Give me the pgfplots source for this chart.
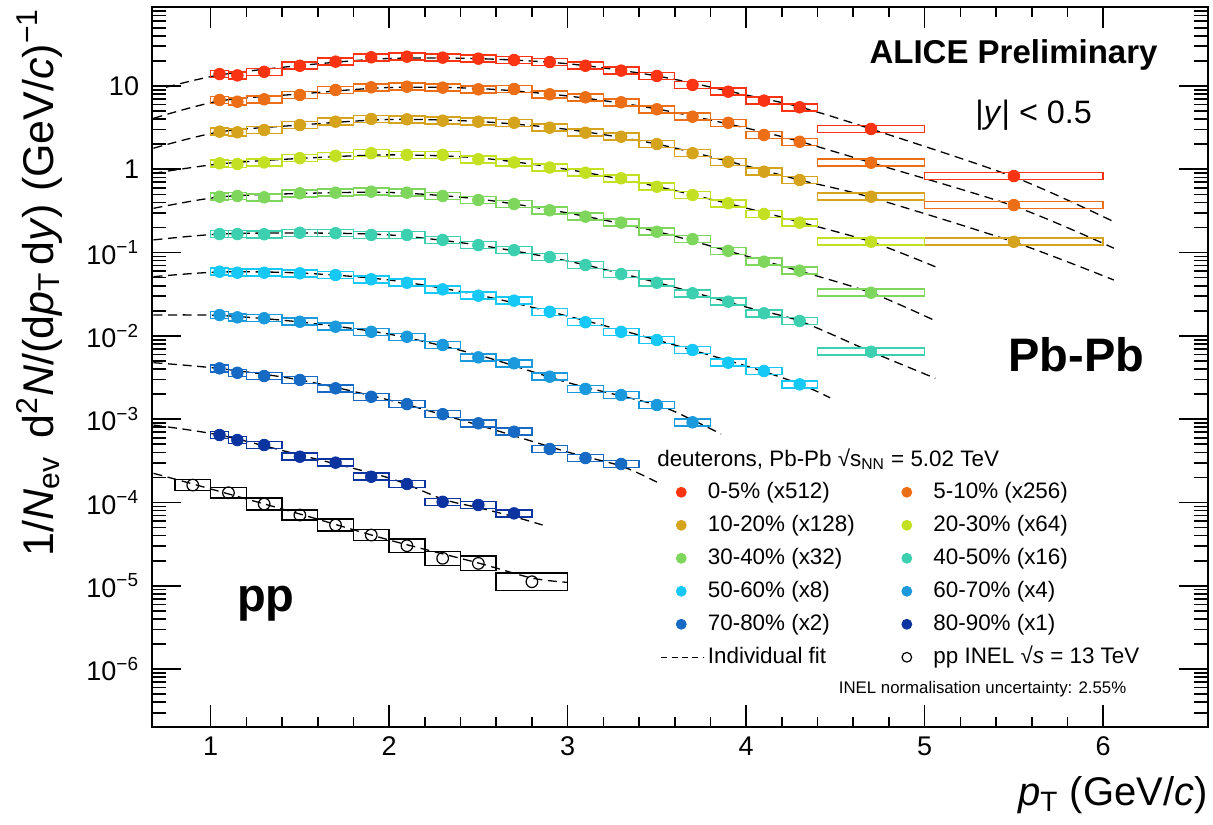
\documentclass[border=0pt]{standalone}
\usepackage{fontspec}
\setmainfont{Liberation Sans}
\usepackage{pgfplots}
\usepackage{pgfplotstable}
\pgfplotsset{compat=1.18}

\definecolor{c1}{RGB}{250,52,18}
\definecolor{c2}{RGB}{236,110,22}
\definecolor{c3}{RGB}{214,163,28}
\definecolor{c4}{RGB}{196,224,34}
\definecolor{c5}{RGB}{126,214,92}
\definecolor{c6}{RGB}{60,208,176}
\definecolor{c7}{RGB}{22,200,245}
\definecolor{c8}{RGB}{26,154,220}
\definecolor{c9}{RGB}{22,106,196}
\definecolor{c10}{RGB}{12,52,160}

\pgfdeclareplotmark{sysbox}{%
  \pgfpathrectangle{\pgfpoint{-\hw*1pt}{-1.75pt}}{\pgfpoint{2*\hw*1pt}{3.5pt}}%
  \pgfusepathqstroke}
\pgfdeclareplotmark{sysboxv}{%
  \pgfpathrectangle{\pgfpoint{-\hw*1pt}{-\hh*1pt}}{\pgfpoint{2*\hw*1pt}{2*\hh*1pt}}%
  \pgfusepathqstroke}

\pgfplotsset{
  sbox/.style={forget plot, scatter, only marks, mark=sysbox, line width=0.75pt,
    point meta=\thisrow{x}, scatter/use mapped color={draw=#1, fill=none},
    visualization depends on={\thisrow{w}*44.63 \as \hw}},
  dpt/.style={forget plot, only marks, mark=*, mark size=2.9pt, color=#1},
  fitl/.style={forget plot, black, line width=0.65pt, dash pattern=on 4.5pt off 2.8pt, smooth, no marks},
}

% ---------------- data: x (GeV/c), y, bin width ----------------
\pgfplotstableread{
x y w
1.05 13.9 0.1
1.15 13.4 0.1
1.3 14.8 0.2
1.5 17.5 0.2
1.7 19.6 0.2
1.9 22.1 0.2
2.1 22.5 0.2
2.3 21.9 0.2
2.5 21.3 0.2
2.7 20.5 0.2
2.9 19.4 0.2
3.1 17.5 0.2
3.3 15.3 0.2
3.5 13.2 0.2
3.7 10.3 0.2
3.9 8.55 0.2
4.1 6.67 0.2
4.3 5.55 0.2
4.7 3.05 0.6
5.5 0.83 1.0
}\tA
\pgfplotstableread{
x y w
1.05 6.79 0.1
1.15 6.48 0.1
1.3 6.92 0.2
1.5 7.80 0.2
1.7 8.95 0.2
1.9 9.64 0.2
2.1 9.81 0.2
2.3 9.55 0.2
2.5 9.12 0.2
2.7 9.2 0.2
2.9 7.95 0.2
3.1 7.31 0.2
3.3 6.37 0.2
3.5 5.25 0.2
3.7 4.28 0.2
3.9 3.62 0.2
4.1 2.58 0.2
4.3 2.14 0.2
4.7 1.20 0.6
5.5 0.372 1.0
}\tB
\pgfplotstableread{
x y w
1.05 2.83 0.1
1.15 2.78 0.1
1.3 2.96 0.2
1.5 3.40 0.2
1.7 3.73 0.2
1.9 4.02 0.2
2.1 3.98 0.2
2.3 3.83 0.2
2.5 3.73 0.2
2.7 3.62 0.2
2.9 3.16 0.2
3.1 2.75 0.2
3.3 2.46 0.2
3.5 2.01 0.2
3.7 1.56 0.2
3.9 1.23 0.2
4.1 0.936 0.2
4.3 0.744 0.2
4.7 0.469 0.6
5.5 0.135 1.0
}\tC
\pgfplotstableread{
x y w
1.05 1.18 0.1
1.15 1.16 0.1
1.3 1.21 0.2
1.5 1.36 0.2
1.7 1.45 0.2
1.9 1.56 0.2
2.1 1.49 0.2
2.3 1.49 0.2
2.5 1.32 0.2
2.7 1.21 0.2
2.9 1.05 0.2
3.1 0.910 0.2
3.3 0.780 0.2
3.5 0.618 0.2
3.7 0.491 0.2
3.9 0.391 0.2
4.1 0.291 0.2
4.3 0.229 0.2
4.7 0.135 0.6
}\tD
\pgfplotstableread{
x y w
1.05 0.469 0.1
1.15 0.478 0.1
1.3 0.461 0.2
1.5 0.515 0.2
1.7 0.524 0.2
1.9 0.539 0.2
2.1 0.524 0.2
2.3 0.478 0.2
2.5 0.428 0.2
2.7 0.383 0.2
2.9 0.322 0.2
3.1 0.270 0.2
3.3 0.229 0.2
3.5 0.178 0.2
3.7 0.145 0.2
3.9 0.105 0.2
4.1 0.0778 0.2
4.3 0.0607 0.2
4.7 0.0330 0.6
}\tE
\pgfplotstableread{
x y w
1.05 0.167 0.1
1.15 0.167 0.1
1.3 0.166 0.2
1.5 0.173 0.2
1.7 0.171 0.2
1.9 0.163 0.2
2.1 0.163 0.2
2.3 0.142 0.2
2.5 0.123 0.2
2.7 0.107 0.2
2.9 0.0885 0.2
3.1 0.0710 0.2
3.3 0.0553 0.2
3.5 0.0435 0.2
3.7 0.0325 0.2
3.9 0.0258 0.2
4.1 0.0187 0.2
4.3 0.0151 0.2
4.7 0.00646 0.6
}\tF
\pgfplotstableread{
x y w
1.05 0.0590 0.1
1.15 0.0574 0.1
1.3 0.0574 0.2
1.5 0.0564 0.2
1.7 0.0538 0.2
1.9 0.0478 0.2
2.1 0.0435 0.2
2.3 0.0362 0.2
2.5 0.0304 0.2
2.7 0.0265 0.2
2.9 0.0195 0.2
3.1 0.0146 0.2
3.3 0.0112 0.2
3.5 0.00893 0.2
3.7 0.00677 0.2
3.9 0.00477 0.2
4.1 0.00379 0.2
4.3 0.00262 0.2
}\tG
\pgfplotstableread{
x y w
1.05 0.0178 0.1
1.15 0.0167 0.1
1.3 0.0163 0.2
1.5 0.0148 0.2
1.7 0.0129 0.2
1.9 0.0112 0.2
2.1 0.00977 0.2
2.3 0.00778 0.2
2.5 0.00553 0.2
2.7 0.00469 0.2
2.9 0.00324 0.2
3.1 0.00231 0.2
3.3 0.00195 0.2
3.5 0.00148 0.2
3.7 0.000918 0.2
}\tH
\pgfplotstableread{
x y w
1.05 0.00408 0.1
1.15 0.00361 0.1
1.3 0.00330 0.2
1.5 0.00296 0.2
1.7 0.00235 0.2
1.9 0.00186 0.2
2.1 0.00152 0.2
2.3 0.00115 0.2
2.5 0.000893 0.2
2.7 0.000708 0.2
2.9 0.000439 0.2
3.1 0.000342 0.2
3.3 0.000290 0.2
}\tI
\pgfplotstableread{
x y w
1.05 0.000646 0.1
1.15 0.000562 0.1
1.3 0.000490 0.2
1.5 0.000355 0.2
1.7 0.000301 0.2
1.9 0.000204 0.2
2.1 0.000167 0.2
2.3 0.000102 0.2
2.5 0.0000934 0.2
2.7 0.0000741 0.2
}\tJ
\pgfplotstableread{
x y w h
0.9 0.000162 0.2 2.67
1.1 0.000131 0.2 2.67
1.3 0.0000960 0.2 3.08
1.5 0.0000708 0.2 2.58
1.7 0.0000537 0.2 2.92
1.9 0.0000407 0.2 2.83
2.1 0.0000303 0.2 3.33
2.3 0.0000214 0.2 3.5
2.5 0.0000186 0.2 3.58
2.8 0.0000112 0.4 4.33
}\tPP

\begin{document}
\begin{tikzpicture}
\begin{axis}[
  scale only axis, width=528.35pt, height=360.15pt,
  xmin=0.67, xmax=6.59, ymin=2.02e-7, ymax=89.5, ymode=log,
  clip=false,
  xtick={1,2,3,4,5,6}, minor x tick num=4,
  tick align=inside,
  axis line style={line width=1pt},
  tick style={black, line width=0.8pt},
  major tick length=12pt, minor tick length=6pt,
  xtick style={/pgfplots/major tick length=10.8pt, /pgfplots/minor tick length=5.2pt},
  ytick style={/pgfplots/major tick length=14.5pt, /pgfplots/minor tick length=7pt},
  /pgf/number format/assume math mode=true,
  tick label style={font=\fontsize{13.5}{16}\selectfont},
  yticklabel style={xshift=-2.8pt},
  xticklabel style={yshift=-1.5pt},
  log number format basis/.code 2 args={%
    \pgfmathtruncatemacro\myexp{#2}%
    \ifnum\myexp=0 1\else\ifnum\myexp=1 10\else
    \pgfmathtruncatemacro\myabs{abs(\myexp)}%
    10\textsuperscript{\ifnum\myexp<0 −\fi\myabs}\fi\fi},
  legend columns=2, legend cell align=left,
  legend image code/.code={\path (0pt,0pt) (21.3pt,0pt);\draw[mark repeat=2,mark phase=2,#1] plot coordinates {(0pt,0pt) (10pt,0pt) (21.3pt,0pt)};},
  legend style={at={(rel axis cs:0.4816,0.3406)}, anchor=north west, draw=none, fill=none,
    inner sep=0pt, outer sep=0pt, font=\fontsize{11.2}{13}\selectfont,
    row sep=5.9pt, column sep=1.7pt,
    nodes={inner sep=0pt, text height=8.2pt, text depth=2.4pt}},
]
% systematic boxes
\addplot[sbox=c1] table[x=x,y=y] {\tA};
\addplot[sbox=c2] table[x=x,y=y] {\tB};
\addplot[sbox=c3] table[x=x,y=y] {\tC};
\addplot[sbox=c4] table[x=x,y=y] {\tD};
\addplot[sbox=c5] table[x=x,y=y] {\tE};
\addplot[sbox=c6] table[x=x,y=y] {\tF};
\addplot[sbox=c7] table[x=x,y=y] {\tG};
\addplot[sbox=c8] table[x=x,y=y] {\tH};
\addplot[sbox=c9] table[x=x,y=y] {\tI};
\addplot[sbox=c10] table[x=x,y=y] {\tJ};
\addplot[forget plot, scatter, only marks, mark=sysboxv, line width=0.75pt,
    point meta=\thisrow{x}, scatter/use mapped color={draw=black, fill=none},
    visualization depends on={\thisrow{w}*44.63 \as \hw},
    visualization depends on={\thisrow{h} \as \hh}] table[x=x,y=y] {\tPP};
% points
\addplot[dpt=c1] table[x=x,y=y] {\tA};
\addplot[dpt=c2] table[x=x,y=y] {\tB};
\addplot[dpt=c3] table[x=x,y=y] {\tC};
\addplot[dpt=c4] table[x=x,y=y] {\tD};
\addplot[dpt=c5] table[x=x,y=y] {\tE};
\addplot[dpt=c6] table[x=x,y=y] {\tF};
\addplot[dpt=c7] table[x=x,y=y] {\tG};
\addplot[dpt=c8] table[x=x,y=y] {\tH};
\addplot[dpt=c9] table[x=x,y=y] {\tI};
\addplot[dpt=c10] table[x=x,y=y] {\tJ};
\addplot[forget plot, only marks, mark=o, mark size=2.9pt, black, line width=0.6pt] table[x=x,y=y] {\tPP};
% fits
\addplot[fitl] coordinates {(0.75,9.65) (1.05,13.55) (1.5,17.6) (2.0,21.4) (2.5,21.3) (3.0,18.5) (3.5,13.2) (4.0,7.80) (4.3,5.60) (4.7,3.05) (5.5,0.809) (6.06,0.235)};
\addplot[fitl] coordinates {(0.68,4.09) (1.05,6.61) (1.5,8.02) (2.0,9.59) (2.5,9.33) (3.0,7.59) (3.5,5.30) (4.0,3.13) (4.3,2.16) (4.7,1.20) (5.5,0.362) (6.06,0.113)};
\addplot[fitl] coordinates {(0.68,1.79) (1.05,2.81) (1.5,3.40) (2.0,3.96) (2.5,3.75) (3.0,3.01) (3.5,2.01) (4.0,1.10) (4.3,0.744) (4.7,0.459) (5.5,0.134) (6.06,0.0469)};
\addplot[fitl] coordinates {(0.68,0.895) (1.05,1.16) (1.5,1.35) (2.0,1.49) (2.5,1.37) (3.0,0.995) (3.5,0.622) (4.0,0.343) (4.3,0.233) (4.7,0.135) (5.06,0.0677)};
\addplot[fitl] coordinates {(0.68,0.340) (1.05,0.465) (1.5,0.512) (2.0,0.527) (2.5,0.440) (3.0,0.299) (3.5,0.179) (4.0,0.0910) (4.3,0.0601) (4.7,0.0330) (5.06,0.0152)};
\addplot[fitl] coordinates {(0.68,0.142) (1.05,0.167) (1.5,0.172) (2.0,0.163) (2.5,0.123) (3.0,0.0793) (3.5,0.0438) (4.0,0.0222) (4.3,0.0151) (4.7,0.00646) (5.06,0.00310)};
\addplot[fitl] coordinates {(0.68,0.0514) (1.05,0.0585) (1.5,0.0569) (2.0,0.0469) (2.5,0.0310) (3.0,0.0173) (3.5,0.00893) (4.0,0.00436) (4.3,0.00265) (4.47,0.00181)};
\addplot[fitl] coordinates {(0.68,0.0178) (1.05,0.0176) (1.5,0.0147) (2.0,0.0105) (2.5,0.00590) (3.0,0.00276) (3.5,0.00148) (3.7,0.000977) (3.86,0.000664)};
\addplot[fitl] coordinates {(0.68,0.00477) (1.05,0.00406) (1.5,0.00296) (2.0,0.00170) (2.5,0.000851) (3.0,0.000404) (3.3,0.000274) (3.5,0.000176)};
\addplot[fitl] coordinates {(0.68,0.000851) (1.05,0.000646) (1.5,0.000372) (2.0,0.000197) (2.3,0.000110) (2.5,0.0000868) (2.7,0.0000676) (2.86,0.0000537)};
\addplot[fitl] coordinates {(0.68,0.000224) (0.9,0.000167) (1.5,0.0000728) (2.0,0.0000355) (2.5,0.0000188) (2.8,0.0000124) (3.0,0.0000110)};
% legend
\addlegendimage{only marks, mark=*, mark size=2.5pt, c1}\addlegendentry{0-5\% (x512)}
\addlegendimage{only marks, mark=*, mark size=2.5pt, c2}\addlegendentry{5-10\% (x256)}
\addlegendimage{only marks, mark=*, mark size=2.5pt, c3}\addlegendentry{10-20\% (x128)\hspace*{14pt}}
\addlegendimage{only marks, mark=*, mark size=2.5pt, c4}\addlegendentry{20-30\% (x64)}
\addlegendimage{only marks, mark=*, mark size=2.5pt, c5}\addlegendentry{30-40\% (x32)}
\addlegendimage{only marks, mark=*, mark size=2.5pt, c6}\addlegendentry{40-50\% (x16)}
\addlegendimage{only marks, mark=*, mark size=2.5pt, c7}\addlegendentry{50-60\% (x8)}
\addlegendimage{only marks, mark=*, mark size=2.5pt, c8}\addlegendentry{60-70\% (x4)}
\addlegendimage{only marks, mark=*, mark size=2.5pt, c9}\addlegendentry{70-80\% (x2)}
\addlegendimage{only marks, mark=*, mark size=2.5pt, c10}\addlegendentry{80-90\% (x1)}
\addlegendimage{black, line width=0.65pt, dash pattern=on 3pt off 2.2pt}\addlegendentry{Individual fit}
\addlegendimage{only marks, mark=o, mark size=2.4pt, black, line width=0.6pt}\addlegendentry{pp INEL √\textit{s} = 13 TeV}
% texts
\node[anchor=base west, inner sep=0pt, font=\fontsize{11.2}{13}\selectfont] at (rel axis cs:0.4781,0.3614) {deuterons, Pb-Pb √s\textsubscript{NN} = 5.02 TeV};
\node[anchor=base east, inner sep=0pt, font=\fontsize{8.4}{10}\selectfont] at (rel axis cs:0.9226,0.0468) {INEL normalisation uncertainty: 2.55\%};
\node[anchor=base east, inner sep=0pt, font=\bfseries\fontsize{16.5}{19}\selectfont] at (rel axis cs:0.9522,0.9218) {ALICE Preliminary};
\node[anchor=base west, inner sep=0pt, font=\fontsize{16.2}{19}\selectfont] at (rel axis cs:0.7791,0.8385) {|\textit{y}| < 0.5};
\node[anchor=base west, inner sep=0pt, font=\bfseries\fontsize{23.5}{28}\selectfont] at (rel axis cs:0.8103,0.4933) {Pb-Pb};
\node[anchor=base west, inner sep=0pt, font=\bfseries\fontsize{23.5}{28}\selectfont] at (rel axis cs:0.0804,0.1601) {pp};
\node[anchor=base east, inner sep=0pt, font=\fontsize{20}{24}\selectfont] at (rel axis cs:0.9995,-0.1083) {\textit{p}\textsubscript{T} (GeV/\textit{c})};
\node[rotate=90, anchor=base east, inner sep=0pt, font=\fontsize{21.5}{25}\selectfont] at (rel axis cs:-0.0934,0.9982) {1/\textit{N}\textsubscript{ev}\kern0.15em\ d\textsuperscript{2}\textit{N}/(d\textit{p}\textsubscript{T}\kern0.15em d\textit{y}) (GeV/\textit{c})\textsuperscript{−1}};
\end{axis}
\pgfresetboundingbox
\path[use as bounding box] (-75.85pt,-48.5pt) rectangle (530.65pt,363.5pt);
\end{tikzpicture}
\end{document}
